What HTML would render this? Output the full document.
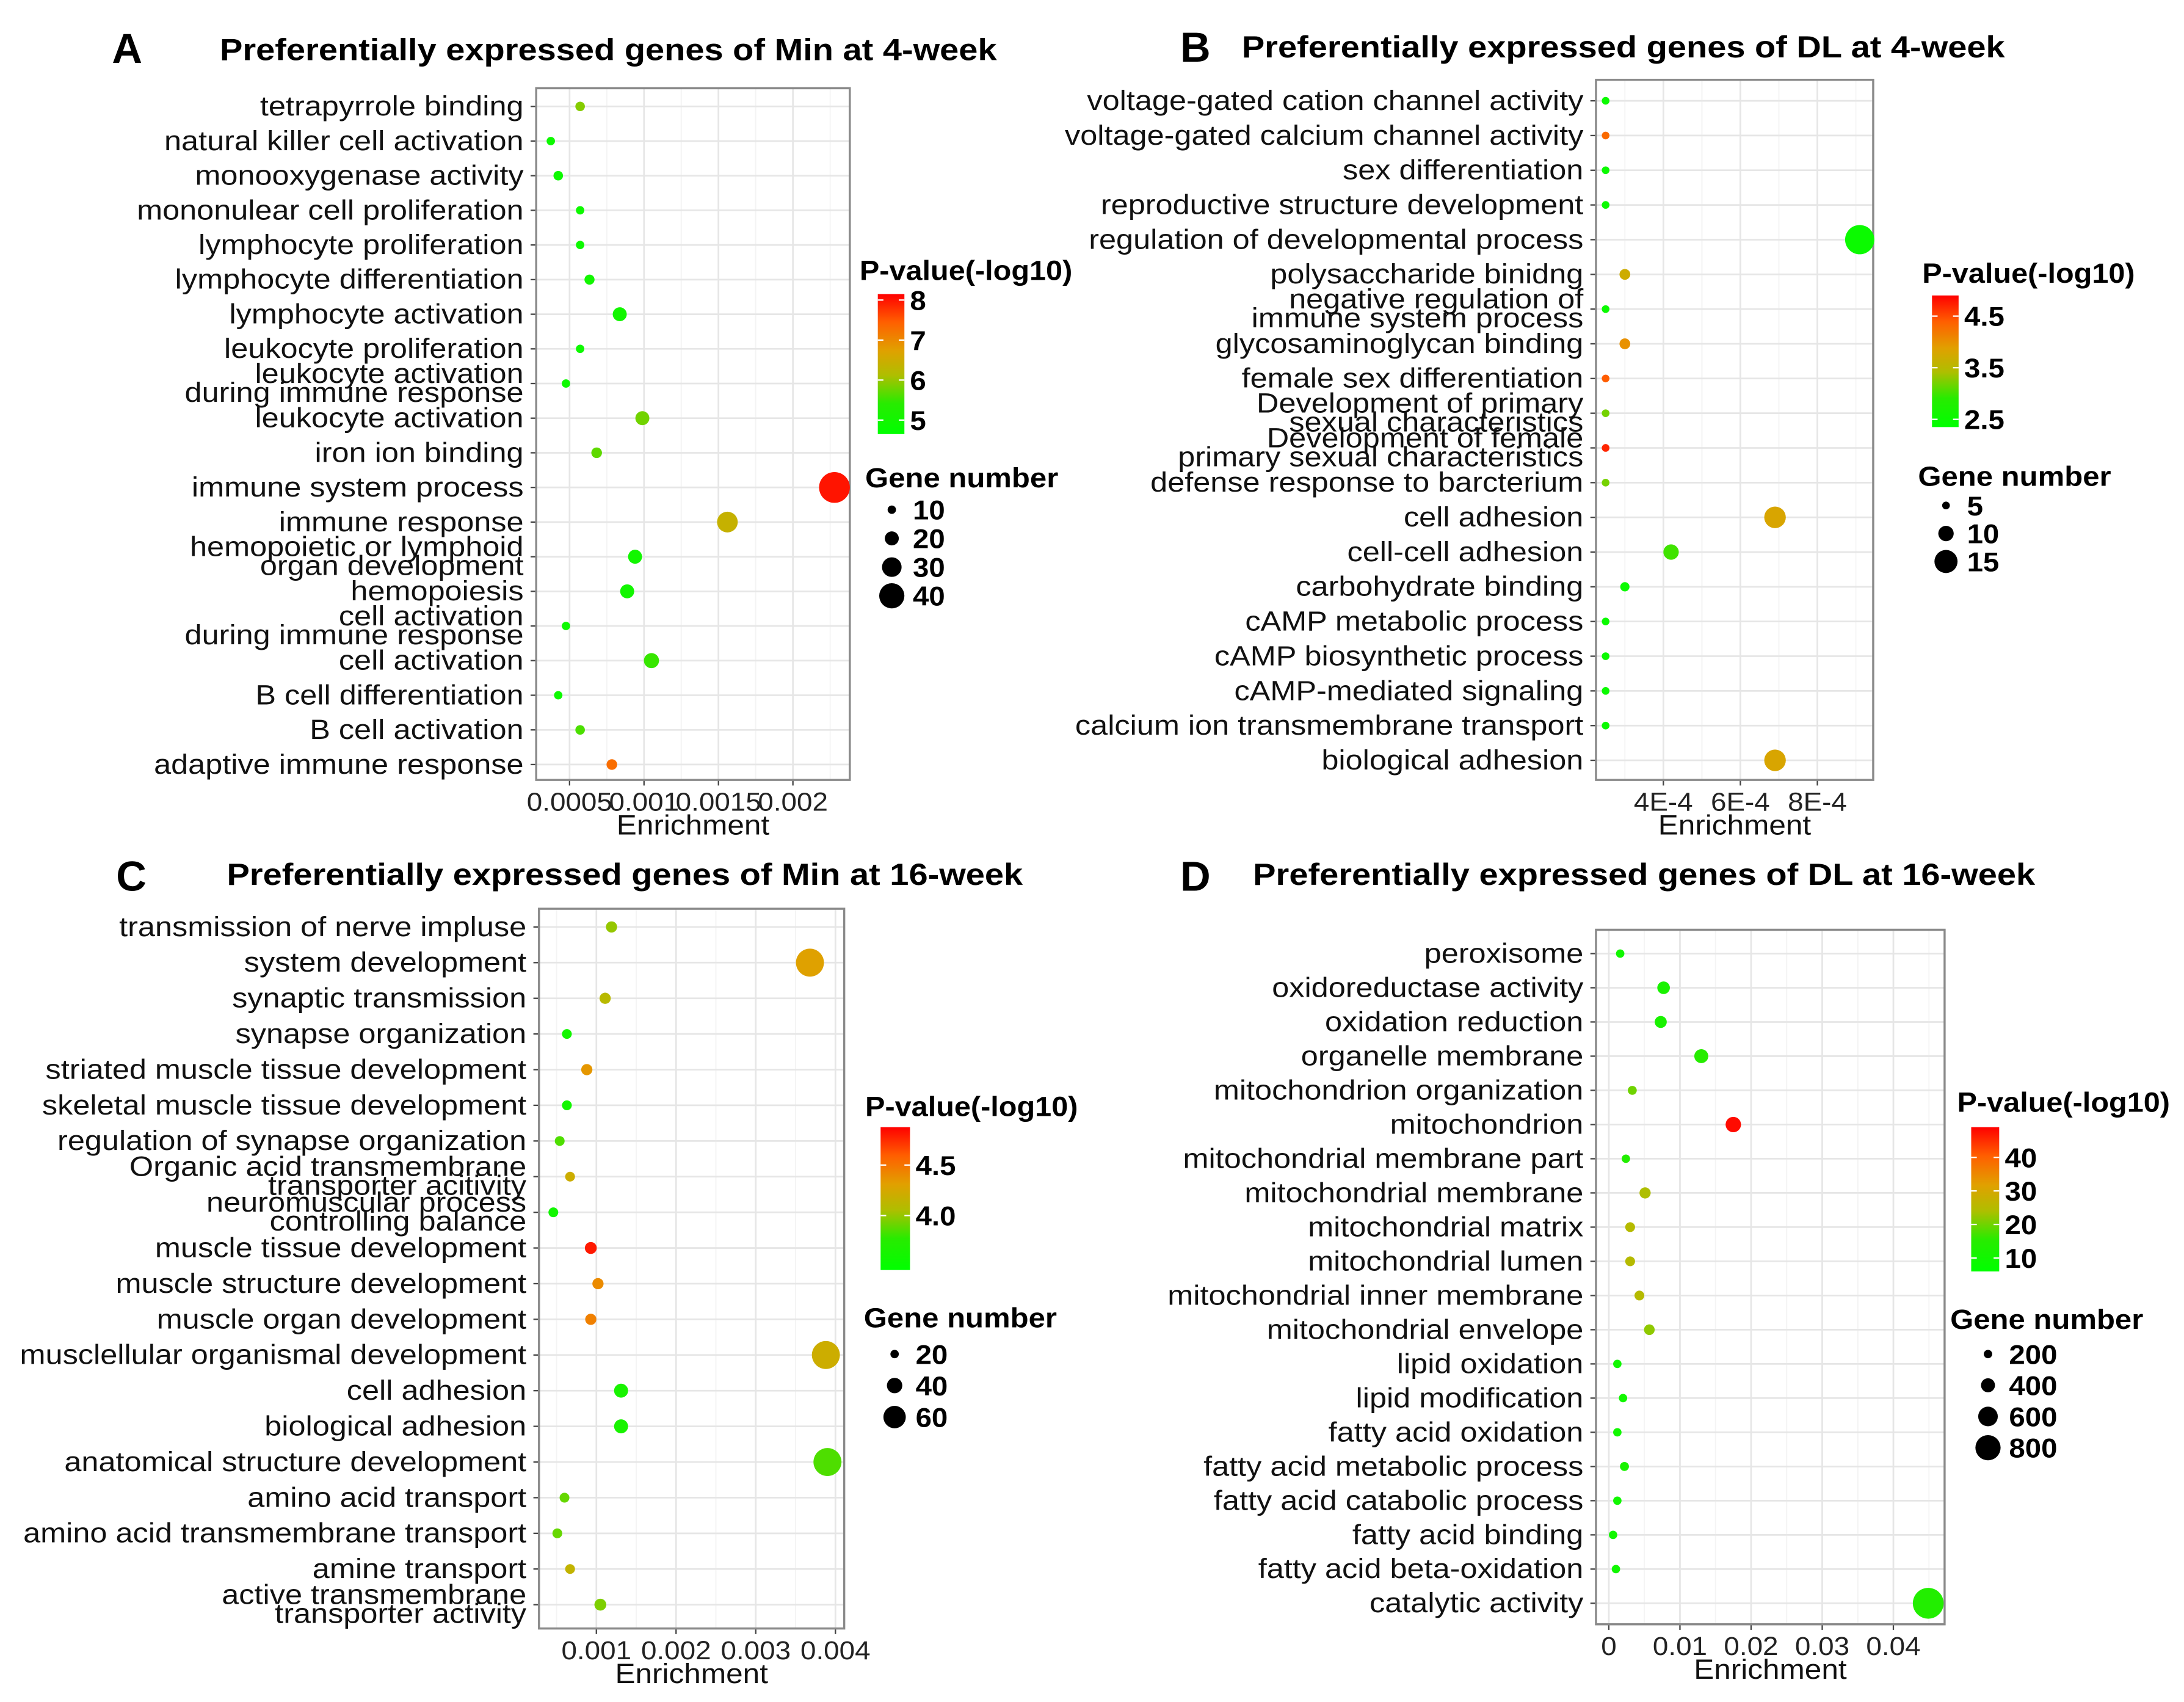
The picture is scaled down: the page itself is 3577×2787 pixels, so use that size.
<!DOCTYPE html>
<html><head><meta charset="utf-8"><style>
html,body{margin:0;padding:0;background:#fff}
svg{display:block}
text{font-family:"Liberation Sans",Arial,sans-serif}
</style></head><body>
<svg id="fig" width="3577" height="2787" viewBox="0 0 1560 1215.5" preserveAspectRatio="none" xmlns="http://www.w3.org/2000/svg">
<defs></defs>
</svg>
<script>
// ---------- Panel A data ----------
const catsA = ["tetrapyrrole binding","natural killer cell activation","monooxygenase activity","mononulear cell proliferation","lymphocyte proliferation","lymphocyte differentiation","lymphocyte activation","leukocyte proliferation","leukocyte activation\nduring immune response","leukocyte activation","iron ion binding","immune system process","immune response","hemopoietic or lymphoid\norgan development","hemopoiesis","cell activation\nduring immune response","cell activation","B cell differentiation","B cell activation","adaptive immune response"];
const enrichA = [0.000571,0.000374,0.000424,0.000571,0.000571,0.000634,0.000837,0.000571,0.000476,0.000989,0.000682,0.002279,0.00156,0.00094,0.000887,0.000476,0.00105,0.000424,0.000571,0.000784];
const pvalA = [5.9,4.9,4.9,4.9,4.9,5.0,5.0,4.9,4.9,5.8,5.7,8.0,6.4,5.0,5.0,4.9,5.5,4.9,5.6,7.3];
const genesA = [12,10,12,10,10,13,20,10,10,20,14,50,32,20,20,10,22,10,12,14];
const xTicksA = [0.0005,0.001,0.0015,0.002];
const xTickLabelsA = ["0.0005","0.001","0.0015","0.002"];
const cTicksA = [5,6,7,8];
const sTicksA = [10,20,30,40];
// ---------- Panel B data ----------
const catsB = ["voltage-gated cation channel activity","voltage-gated calcium channel activity","sex differentiation","reproductive structure development","regulation of developmental process","polysaccharide binidng","negative regulation of\nimmune system process","glycosaminoglycan binding","female sex differentiation","Development of primary\nsexual characteristics","Development of female\nprimary sexual characteristics","defense response to barcterium","cell adhesion","cell-cell adhesion","carbohydrate binding","cAMP metabolic process","cAMP biosynthetic process","cAMP-mediated signaling","calcium ion transmembrane transport","biological adhesion"];
const enrichB = [0.00025,0.00025,0.00025,0.00025,0.00091,0.0003,0.00025,0.0003,0.00025,0.00025,0.00025,0.00025,0.00069,0.00042,0.0003,0.00025,0.00025,0.00025,0.00025,0.00069];
const pvalB = [2.5,4.3,2.5,2.5,2.5,3.7,2.5,4.0,4.4,3.2,4.7,3.2,3.8,3.0,2.5,2.5,2.5,2.5,2.5,3.8];
const genesB = [5,5,5,5,19,7,5,7,5,5,5,5,14,10,6,5,5,5,5,14];
const xTicksB = [0.0004,0.0006,0.0008];
const xTickLabelsB = ["4E-4","6E-4","8E-4"];
const cTicksB = [2.5,3.5,4.5];
const sTicksB = [5,10,15];
// ---------- Panel C data ----------
const catsC = ["transmission of nerve impluse","system development","synaptic transmission","synapse organization","striated muscle tissue development","skeletal muscle tissue development","regulation of synapse organization","Organic acid transmembrane\ntransporter acitivity","neuromuscular process\ncontrolling balance","muscle tissue development","muscle structure development","muscle organ development","musclellular organismal development","cell adhesion","biological adhesion","anatomical structure development","amino acid transport","amino acid transmembrane transport","amine transport","active transmembrane\ntransporter activity"];
const enrichC = [0.00119,0.00368,0.00111,0.00063,0.00088,0.00063,0.00054,0.00067,0.00046,0.00093,0.00102,0.00093,0.00388,0.00131,0.00131,0.0039,0.0006,0.00051,0.00067,0.00105];
const pvalC = [4.0,4.3,4.1,3.6,4.35,3.6,3.85,4.2,3.6,4.8,4.4,4.45,4.2,3.65,3.65,3.85,3.9,3.9,4.15,3.95];
const genesC = [28,76,28,24,28,24,24,24,24,30,28,28,76,36,36,76,24,24,24,30];
const xTicksC = [0.001,0.002,0.003,0.004];
const xTickLabelsC = ["0.001","0.002","0.003","0.004"];
const cTicksC = [4.0,4.5];
const sTicksC = [20,40,60];
// ---------- Panel D data ----------
const catsD = ["peroxisome","oxidoreductase activity","oxidation reduction","organelle membrane","mitochondrion organization","mitochondrion","mitochondrial membrane part","mitochondrial membrane","mitochondrial matrix","mitochondrial lumen","mitochondrial inner membrane","mitochondrial envelope","lipid oxidation","lipid modification","fatty acid oxidation","fatty acid metabolic process","fatty acid catabolic process","fatty acid binding","fatty acid beta-oxidation","catalytic activity"];
const enrichD = [0.0016,0.0077,0.0073,0.013,0.0033,0.0175,0.0024,0.0051,0.003,0.003,0.0043,0.0057,0.0012,0.002,0.0012,0.0022,0.0012,0.0006,0.001,0.0449];
const pvalD = [10,12,12,15,20,48,14,24,25,25,25,22,10,10,10,12,10,10,10,14];
const genesD = [200,350,330,400,220,450,200,300,250,250,250,280,200,200,200,220,200,200,200,1000];
const xTicksD = [0,0.01,0.02,0.03,0.04];
const xTickLabelsD = ["0","0.01","0.02","0.03","0.04"];
const cTicksD = [10,20,30,40];
const sTicksD = [200,400,600,800];

const NS = "http://www.w3.org/2000/svg";
const svg = document.getElementById('fig');
function mk(tag, attrs, parent){ const e=document.createElementNS(NS,tag); for(const k in attrs) e.setAttribute(k,attrs[k]); (parent||svg).appendChild(e); return e; }
function sx(e,x,s){ e.setAttribute('transform',`matrix(${s},0,0,1,${x*(1-s)},0)`); return e; }
const stops=[[0,[0,255,0]],[0.22,[40,235,0]],[0.42,[175,190,0]],[0.6,[225,160,0]],[0.8,[255,95,0]],[1,[255,0,0]]];
function colorAt(t){ t=Math.max(0,Math.min(1,t)); for(let i=1;i<stops.length;i++){ if(t<=stops[i][0]){ const a=stops[i-1],b=stops[i]; const f=(t-a[0])/(b[0]-a[0]); const c=a[1].map((v,j)=>Math.round(v+(b[1][j]-v)*f)); return `rgb(${c[0]},${c[1]},${c[2]})`; } } return 'rgb(255,0,0)'; }

let gid=0;
function panel(cfg){
  const g=mk('g',{});
  
  
  const {L,R,T,B}=cfg;
  const xs=v=>L+(v-cfg.xmin)/(cfg.xmax-cfg.xmin)*(R-L);
  const n=cfg.cats.length;
  const ys=i=>cfg.y0+i*(cfg.y1-cfg.y0)/(n-1);
  const lt=mk('text',{x:cfg.lx,y:cfg.ly,'font-size':30,'font-weight':'bold'},g); lt.textContent=cfg.id;
  
  
  const tt=mk('text',{x:cfg.tx,y:cfg.ty,'font-size':22,'font-weight':'bold'},g); tt.textContent=cfg.title;
  
  
  sx(tt,cfg.tx,1.11);
  mk('rect',{x:L,y:T,width:R-L,height:B-T,fill:'#fff'},g);
  for(let i=0;i<cfg.xt.length;i++){
    const step=(cfg.xt.length>1)?cfg.xt[1]-cfg.xt[0]:0;
    [cfg.xt[i]-step/2, cfg.xt[i]+step/2].forEach(v=>{ if(v>cfg.xmin&&v<cfg.xmax){ mk('line',{x1:xs(v),x2:xs(v),y1:T,y2:B,stroke:'#f4f4f4','stroke-width':0.8},g);} });
  }
  cfg.xt.forEach((v,i)=>{
    const x=xs(v);
    mk('line',{x1:x,x2:x,y1:T,y2:B,stroke:'#e6e6e6','stroke-width':1.2},g);
    mk('line',{x1:x,x2:x,y1:B,y2:B+4,stroke:'#444','stroke-width':1},g);
    const t=mk('text',{x:x,y:B+22,'font-size':18.5,'text-anchor':'middle',fill:'#222'},g); t.textContent=cfg.xl[i];
    
    
    sx(t,x,1.08);
  });
  cfg.cats.forEach((c,i)=>{
    const y=ys(i);
    mk('line',{x1:L,x2:R,y1:y,y2:y,stroke:'#e6e6e6','stroke-width':1.2},g);
    mk('line',{x1:L-4,x2:L,y1:y,y2:y,stroke:'#444','stroke-width':1},g);
    const parts=c.split('\n');
    const lx=L-9;
    const t=mk('text',{x:lx,y:y+6.5,'font-size':20,'text-anchor':'end',fill:'#111'},g);
    
    
    if(parts.length===1){ t.textContent=c; }
    else { parts.forEach((p,k)=>{ const s=mk('tspan',{x:lx,y:y+(k===0?-0.5:13)},t); s.textContent=p; }); }
    sx(t,lx,1.1);
  });
  mk('rect',{x:L,y:T,width:R-L,height:B-T,fill:'none',stroke:'#8a8a8a','stroke-width':1.5},g);
  const xa=mk('text',{x:(L+R)/2,y:B+39,'font-size':20,'text-anchor':'middle',fill:'#111'},g); xa.textContent='Enrichment';
  
  
  sx(xa,(L+R)/2,1.08);
  const cn=v=>(v-cfg.clo)/(cfg.chi-cfg.clo);
  cfg.cats.forEach((c,i)=>{
    const d=mk('circle',{cx:xs(cfg.vals[i]),cy:ys(i),r:cfg.rf(cfg.genes[i]),fill:colorAt(cn(cfg.pv[i]))},g);
    
    
  });
  const lg=cfg.leg;
  const ct=mk('text',{x:lg.tx,y:lg.ty,'font-size':20,'font-weight':'bold'},g); ct.textContent='P-value(-log10)';
  
  
  sx(ct,lg.tx,1.06);
  const id='grad'+(gid++);
  const lgd=mk('linearGradient',{id:id,x1:0,y1:1,x2:0,y2:0},svg.querySelector('defs'));
  stops.forEach(s=>mk('stop',{offset:s[0],'stop-color':`rgb(${s[1].join(',')})`},lgd));
  const cb=mk('rect',{x:lg.bx,y:lg.bt,width:lg.bw,height:lg.bb-lg.bt,fill:`url(#${id})`},g);
  
  
  const cy=v=>lg.bb-cn(v)*(lg.bb-lg.bt);
  cfg.ct.forEach(v=>{
    const y=cy(v);
    mk('line',{x1:lg.bx,x2:lg.bx+4,y1:y,y2:y,stroke:'#fff','stroke-width':1},g);
    mk('line',{x1:lg.bx+lg.bw-4,x2:lg.bx+lg.bw,y1:y,y2:y,stroke:'#fff','stroke-width':1},g);
    const tx=lg.bx+lg.bw+4;
    const t=mk('text',{x:tx,y:y+7,'font-size':19.5,'font-weight':'bold'},g); t.textContent=String(v%1?v.toFixed(1):(cfg.id==='C'?v.toFixed(1):v));
    
    
    sx(t,tx,1.06);
  });
  const st=mk('text',{x:lg.sx,y:lg.sy,'font-size':20,'font-weight':'bold'},g); st.textContent='Gene number';
  
  
  sx(st,lg.sx,1.07);
  cfg.st.forEach((v,i)=>{
    const y=lg.sy0+i*lg.sdy;
    mk('circle',{cx:lg.scx,cy:y,r:cfg.rf(v),fill:'#000'},g);
    const tx=lg.scx+15;
    const t=mk('text',{x:tx,y:y+7,'font-size':19.5,'font-weight':'bold'},g); t.textContent=String(v);
    
    
    sx(t,tx,1.06);
  });
}

panel({id:'A',title:'Preferentially expressed genes of Min at 4-week',lx:80,ly:45,tx:157,ty:43,
  L:383,R:607,T:63,B:557,xmin:0.000276,xmax:0.002382,y0:76,y1:546,
  cats:catsA,vals:enrichA,pv:pvalA,genes:genesA,xt:xTicksA,xl:xTickLabelsA,ct:cTicksA,st:sTicksA,
  clo:4.65,chi:8.15,rf:n=>1+0.2*n,
  leg:{tx:614,ty:200,bx:627,bw:19,bt:210,bb:310,sx:618,sy:348,sy0:364,sdy:20.5,scx:637}});
panel({id:'B',title:'Preferentially expressed genes of DL at 4-week',lx:843,ly:44,tx:887,ty:41,
  L:1140,R:1338,T:57,B:557,xmin:0.000225,xmax:0.000945,y0:72,y1:543,
  cats:catsB,vals:enrichB,pv:pvalB,genes:genesB,xt:xTicksB,xl:xTickLabelsB,ct:cTicksB,st:sTicksB,
  clo:2.35,chi:4.9,rf:n=>0.55*n,
  leg:{tx:1373,ty:202,bx:1380,bw:19,bt:211,bb:305,sx:1370,sy:347,sy0:361,sdy:20,scx:1390}});
panel({id:'C',title:'Preferentially expressed genes of Min at 16-week',lx:83,ly:636,tx:162,ty:632,
  L:385,R:603,T:649,B:1163,xmin:0.00028,xmax:0.00411,y0:662,y1:1146,
  cats:catsC,vals:enrichC,pv:pvalC,genes:genesC,xt:xTicksC,xl:xTickLabelsC,ct:cTicksC,st:sTicksC,
  clo:3.46,chi:4.875,rf:n=>0.5+0.125*n,
  leg:{tx:618,ty:797,bx:629,bw:21,bt:805,bb:907,sx:617,sy:948,sy0:967,sdy:22.5,scx:639}});
panel({id:'D',title:'Preferentially expressed genes of DL at 16-week',lx:843,ly:636,tx:895,ty:632,
  L:1140,R:1389,T:664,B:1160,xmin:-0.0018,xmax:0.0472,y0:681,y1:1145,
  cats:catsD,vals:enrichD,pv:pvalD,genes:genesD,xt:xTicksD,xl:xTickLabelsD,ct:cTicksD,st:sTicksD,
  clo:6,chi:49,rf:n=>1+0.01*n,
  leg:{tx:1398,ty:794,bx:1408,bw:20,bt:805,bb:908,sx:1393,sy:949,sy0:967,sdy:22.3,scx:1420}});
</script>
</body></html>
